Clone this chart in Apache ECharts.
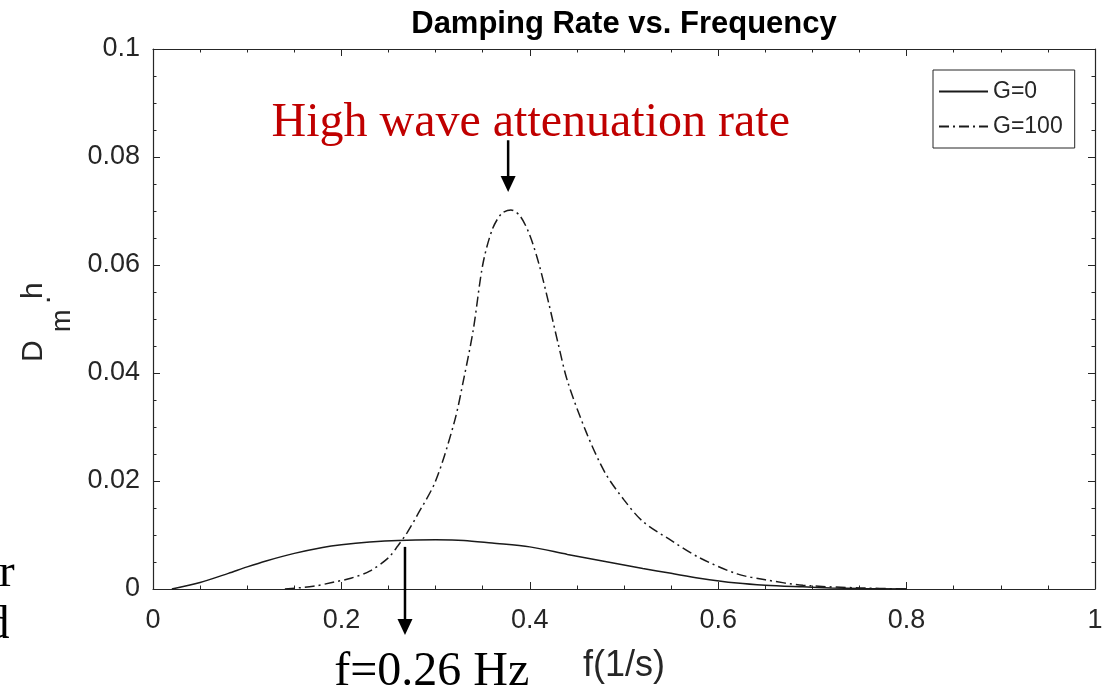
<!DOCTYPE html>
<html>
<head>
<meta charset="utf-8">
<script src="https://cdn.jsdelivr.net/npm/echarts@6/dist/echarts.min.js"></script>
<style>
html,body{margin:0;padding:0;background:#fff;}
#chart{width:1115px;height:696px;}
</style>
</head>
<body>
<div id="chart"></div>
<script>
// ---- data ----
const freqG0 = [0.02,0.05,0.08,0.10,0.12,0.15,0.18,0.20,0.23,0.26,0.30,0.33,0.36,0.40,0.44,0.48,0.52,0.55,0.58,0.62,0.65,0.69,0.72,0.75,0.80];
const dampG0 = [0,0.0012,0.0029,0.0041,0.0052,0.0066,0.0077,0.0082,0.0087,0.0090,0.0091,0.0090,0.0085,0.0078,0.0064,0.0051,0.0038,0.0029,0.0020,0.0011,0.0007,0.0004,0.0002,0.0001,0];
const freqG100 = [0.14,0.17,0.19,0.21,0.23,0.25,0.26,0.27,0.28,0.30,0.32,0.33,0.34,0.35,0.36,0.37,0.38,0.39,0.40,0.41,0.42,0.43,0.44,0.46,0.48,0.50,0.52,0.55,0.58,0.62,0.65,0.69,0.75,0.80];
const dampG100 = [0,0.0005,0.0012,0.0020,0.0033,0.0058,0.0080,0.0105,0.0135,0.0200,0.0310,0.0390,0.0480,0.0600,0.0665,0.0695,0.0702,0.0690,0.0655,0.0600,0.0530,0.0455,0.0385,0.0290,0.0215,0.0165,0.0125,0.0090,0.0058,0.0028,0.0017,0.0007,0.0002,0];
const seriesNames = ['G=0','G=100'];
const xTickLabels = ['0','0.2','0.4','0.6','0.8','1'];
const yTickLabels = ['0','0.02','0.04','0.06','0.08','0.1'];
const titleText = 'Damping Rate vs. Frequency';
const xName = 'f(1/s)';
const noteHigh = 'High wave attenuation rate';
const noteCross = 'f=0.26 Hz';

const AX = '#262626';
const SANS = '"Liberation Sans", Arial, Helvetica, sans-serif';
const SERIF = '"Liberation Serif", "Times New Roman", serif';

const zip = (xs, ys) => xs.map((x, i) => [x, ys[i]]);

const chart = echarts.init(document.getElementById('chart'), null, {renderer: 'canvas'});

function axisCommon(showLabel) {
  return {
    axisLine: {show: true, onZero: false, lineStyle: {color: AX, width: 1.2}},
    axisTick: {show: true, inside: true, length: 7, lineStyle: {color: AX, width: 1}},
    minorTick: {show: true, splitNumber: 4, length: 3.5, lineStyle: {color: AX, width: 1}},
    splitLine: {show: false},
    axisLabel: {show: showLabel}
  };
}

const option = {
  animation: false,
  backgroundColor: '#fff',
  grid: {left: 153, right: 20, top: 49, bottom: 107, containLabel: false},
  legend: {
    orient: 'vertical',
    left: 933, top: 70,
    padding: [10, 12, 10, 5],
    itemWidth: 49, itemHeight: 20, itemGap: 12,
    borderColor: AX, borderWidth: 1,
    backgroundColor: '#fff',
    itemStyle: {opacity: 0},
    textStyle: {fontFamily: SANS, fontSize: 23, color: AX},
    data: seriesNames
  },
  xAxis: [
    Object.assign(axisCommon(true), {
      type: 'value', min: 0, max: 1, interval: 0.2, position: 'bottom',
      axisLabel: {show: true, margin: 18, fontFamily: SANS, fontSize: 27, color: AX,
        formatter: v => xTickLabels[Math.round(v / 0.2)]},
      name: xName, nameLocation: 'middle', nameGap: 59,
      nameTextStyle: {fontFamily: SANS, fontSize: 36, color: AX}
    }),
    Object.assign(axisCommon(false), {
      type: 'value', min: 0, max: 1, interval: 0.2, position: 'top'
    })
  ],
  yAxis: [
    Object.assign(axisCommon(true), {
      type: 'value', min: 0, max: 0.1, interval: 0.02, position: 'left',
      axisLabel: {show: true, margin: 13, fontFamily: SANS, fontSize: 27, color: AX,
        formatter: v => yTickLabels[Math.round(v / 0.02)]}
    }),
    Object.assign(axisCommon(false), {
      type: 'value', min: 0, max: 0.1, interval: 0.02, position: 'right'
    })
  ],
  series: [
    {
      name: seriesNames[0], type: 'line', xAxisIndex: 0, yAxisIndex: 0,
      data: zip(freqG0, dampG0), smooth: 0.3, showSymbol: false, symbol: 'none',
      lineStyle: {color: '#1a1a1a', width: 1.5, type: 'solid'},
      itemStyle: {color: '#1a1a1a'}
    },
    {
      name: seriesNames[1], type: 'line', xAxisIndex: 0, yAxisIndex: 0,
      data: zip(freqG100, dampG100), smooth: 0.3, showSymbol: false, symbol: 'none',
      lineStyle: {color: '#1a1a1a', width: 1.5, type: [10, 4, 2, 4]},
      itemStyle: {color: '#1a1a1a'}
    }
  ]
};
chart.setOption(option);

// ---- annotations (placed through the grid's coordinate system) ----
const px = (x, y) => chart.convertToPixel({gridIndex: 0}, [x, y]);
function arrow(x, y0, y1) {
  const a = px(x, y0), b = px(x, y1);
  const head = 16, half = 7.5;
  return [
    {type: 'line', silent: true, z: 100,
      shape: {x1: a[0], y1: a[1], x2: b[0], y2: b[1] - head + 2},
      style: {stroke: '#000', lineWidth: 2.5}},
    {type: 'polygon', silent: true, z: 100,
      shape: {points: [[b[0] - half, b[1] - head], [b[0] + half, b[1] - head], [b[0], b[1]]]},
      style: {fill: '#000'}}
  ];
}
const gridLeft = px(0, 0)[0], gridRight = px(1, 0)[0];
const midX = (gridLeft + gridRight) / 2;
const topP = px(0.401, 0.0862);
const crossP = px(0.296, -0.0155);

const graphics = [
  {type: 'text', silent: true, z: 100, x: midX, y: 24,
    style: {text: titleText, fontFamily: SANS, fontSize: 31, fontWeight: 'bold', fill: '#000', align: 'center', verticalAlign: 'middle'}},
  {type: 'text', silent: true, z: 100, x: topP[0], y: topP[1],
    style: {text: noteHigh, fontFamily: SERIF, fontSize: 48, fill: '#c00000', align: 'center', verticalAlign: 'middle'}},
  {type: 'text', silent: true, z: 100, x: crossP[0], y: crossP[1],
    style: {text: noteCross, fontFamily: SERIF, fontSize: 48, fill: '#000', align: 'center', verticalAlign: 'middle'}},
  // clipped fragments of neighbouring text at the left edge
  {type: 'text', silent: true, z: 100, x: -1, y: 574,
    style: {text: 'r', fontFamily: SERIF, fontSize: 47, fill: '#000', align: 'left', verticalAlign: 'middle'}},
  {type: 'text', silent: true, z: 100, x: -14, y: 626,
    style: {text: 'd', fontFamily: SERIF, fontSize: 47, fill: '#000', align: 'left', verticalAlign: 'middle'}},
  // y axis name D_m.h, rotated
  {type: 'group', silent: true, x: 34, y: 362, rotation: Math.PI / 2, z: 100,
    children: [
      {type: 'text', x: 0, y: 0, style: {text: 'D', fontFamily: SANS, fontSize: 30, fill: AX, align: 'left', verticalAlign: 'middle'}},
      {type: 'text', x: 30, y: 29, style: {text: 'm', fontFamily: SANS, fontSize: 27, fill: AX, align: 'left', verticalAlign: 'middle'}},
      {type: 'text', x: 58, y: 8, style: {text: '.', fontFamily: SANS, fontSize: 30, fill: AX, align: 'left', verticalAlign: 'middle'}},
      {type: 'text', x: 63, y: 0, style: {text: 'h', fontFamily: SANS, fontSize: 30, fill: AX, align: 'left', verticalAlign: 'middle'}}
    ]}
].concat(arrow(0.377, 0.0831, 0.0735), arrow(0.2675, 0.0078, -0.0085));

chart.setOption({graphic: graphics});
</script>
</body>
</html>
